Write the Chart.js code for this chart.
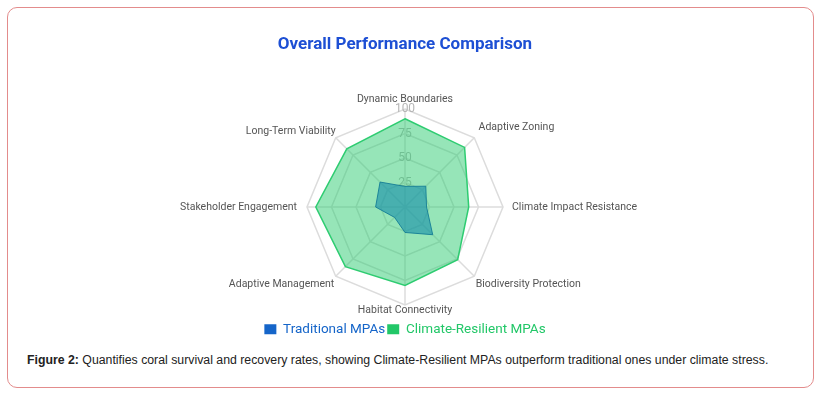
<!DOCTYPE html>
<html>
<head>
<meta charset="utf-8">
<script src="https://cdn.jsdelivr.net/npm/chart.js@4.4.0/dist/chart.umd.min.js"></script>
<style>
    body { margin: 0; background: #fff; }
    .frame {
        position: absolute; left: 7px; top: 7px; width: 805px; height: 379px;
        border: 1px solid #e38c8c; border-radius: 10px;
    }
    .chart-box { position: absolute; left: 8px; top: 25px; width: 794px; height: 313px; }
    .caption {
        position: absolute; left: 27px; top: 353px;
        font-family: "Liberation Sans", Arial, sans-serif; font-size: 12.3px; color: #222;
    }
</style>
</head>
<body>
<div class="frame"></div>
<div class="chart-box"><canvas id="radar"></canvas></div>
<div class="caption"><b>Figure 2:</b> Quantifies coral survival and recovery rates, showing Climate-Resilient MPAs outperform traditional ones under climate stress.</div>
<script>
// Axes of the radar
const categories = [
    'Dynamic Boundaries', 'Adaptive Zoning', 'Climate Impact Resistance', 'Biodiversity Protection',
    'Habitat Connectivity', 'Adaptive Management', 'Stakeholder Engagement', 'Long-Term Viability'
];

// Scores (0-100)
const traditionalScores = [21, 30, 22, 40, 26, 15, 30, 36];
const resilientScores = [90, 86, 65, 76, 80, 86, 91, 84];

const tickValues = [0, 25, 50, 75, 100];

// distance of each axis label from the outer ring (same order as categories)
const labelGaps = [-3, 0, 3, -4, -7, -4, 4, -6];

const COLORS = {
    title: '#1d4fd4',
    tradLegend: '#1565c9',
    tradFill: 'rgba(20, 140, 170, 0.6)',
    tradLine: 'rgba(20, 125, 150, 0.9)',
    resLegend: '#22c768',
    resFill: 'rgba(46, 204, 113, 0.5)',
    resLine: '#2ecc71',
    grid: '#dcdcdc',
    label: '#555',
    tick: '#b5b5b5'
};

new Chart(document.getElementById('radar'), {
    type: 'radar',
    data: {
        labels: categories,
        datasets: [
            {
                label: 'Traditional MPAs',
                data: traditionalScores,
                backgroundColor: COLORS.tradFill,
                borderColor: COLORS.tradLine,
                borderWidth: 1,
                pointRadius: 0
            },
            {
                label: 'Climate-Resilient MPAs',
                data: resilientScores,
                backgroundColor: COLORS.resFill,
                borderColor: COLORS.resLine,
                borderWidth: 1.5,
                pointRadius: 0
            }
        ]
    },
    options: {
        responsive: true,
        maintainAspectRatio: false,
        animation: false,
        layout: { padding: { bottom: -8 } },
        scales: {
            r: {
                min: 0,
                max: 100,
                afterBuildTicks: scale => { scale.ticks = tickValues.map(v => ({ value: v })); },
                grid: { color: COLORS.grid, lineWidth: 1.5 },
                angleLines: { color: COLORS.grid, lineWidth: 1.5 },
                ticks: {
                    showLabelBackdrop: false,
                    backdropPadding: 0,
                    color: COLORS.tick,
                    font: { family: 'Roboto', size: 12 }
                },
                pointLabels: {
                    color: COLORS.label,
                    padding: ctx => labelGaps[ctx.index],
                    font: { family: 'Roboto', size: 10.5 }
                }
            }
        },
        plugins: {
            title: {
                display: true,
                text: 'Overall Performance Comparison',
                color: COLORS.title,
                padding: { top: 10, bottom: 36 },
                font: { family: 'Roboto', size: 17, weight: 'bold' }
            },
            legend: {
                position: 'bottom',
                labels: {
                    boxWidth: 12,
                    boxHeight: 10,
                    padding: 2,
                    font: { family: 'Roboto', size: 13.5 },
                    generateLabels: chart => [
                        { text: 'Traditional MPAs', fillStyle: COLORS.tradLegend, strokeStyle: COLORS.tradLegend, lineWidth: 0, fontColor: COLORS.tradLegend, datasetIndex: 0 },
                        { text: 'Climate-Resilient MPAs', fillStyle: COLORS.resLegend, strokeStyle: COLORS.resLegend, lineWidth: 0, fontColor: COLORS.resLegend, datasetIndex: 1 }
                    ]
                }
            },
            tooltip: { enabled: false }
        }
    }
});
</script>
</body>
</html>
